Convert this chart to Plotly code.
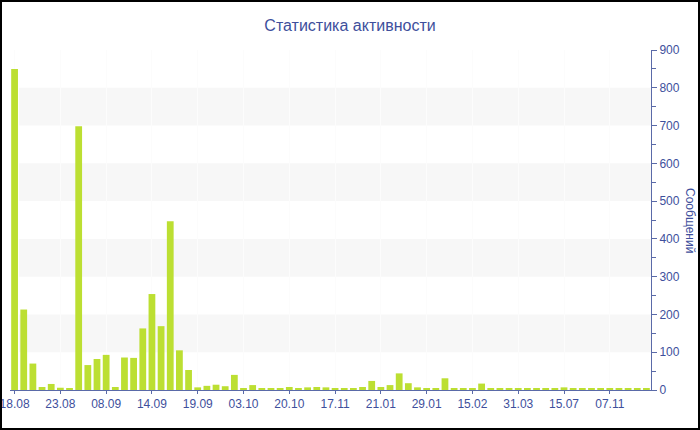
import plotly.graph_objects as go

# ---- data ----
messages = [850, 213, 70, 8, 16, 6, 5, 698, 66, 82,
            93, 8, 86, 85, 163, 254, 169, 447, 105, 53,
            7, 11, 14, 10, 40, 4, 13, 5, 3, 4,
            8, 3, 7, 8, 7, 4, 5, 5, 8, 24,
            8, 13, 44, 18, 7, 5, 5, 31, 4, 4,
            4, 17, 4, 4, 5, 5, 4, 4, 4, 4,
            7, 4, 4, 4, 4, 4, 4, 4, 4, 4]
positions = list(range(len(messages)))
tick_positions = [0, 5, 10, 15, 20, 25, 30, 35, 40, 45, 50, 55, 60, 65]
tick_labels = ["18.08", "23.08", "08.09", "14.09", "19.09", "03.10", "20.10",
               "17.11", "21.01", "29.01", "15.02", "31.03", "15.07", "07.11"]
bands = [(100, 200), (300, 400), (500, 600), (700, 800)]

TXT = "#3e4f9c"
AX = "#5a6aa8"
BAR = "#bcdf32"
FONT = "Liberation Sans"

W, H = 700, 430
ML, MR, MT, MB = 10, 49, 50, 40
PW, PH = W - ML - MR, H - MT - MB

fig = go.Figure()
fig.add_trace(go.Bar(x=positions, y=messages, marker=dict(color=BAR, line=dict(width=0)),
                     hoverinfo="y"))

shapes = []
for lo, hi in bands:
    shapes.append(dict(type="rect", xref="x", yref="y", x0=0.5, x1=positions[-1] + 0.5,
                       y0=lo, y1=hi, fillcolor="#f7f7f7", line=dict(width=0), layer="below"))
# outer frame
shapes.append(dict(type="rect", xref="paper", yref="paper",
                   x0=(1 - ML) / PW, x1=(W - 1 - ML) / PW,
                   y0=(H - MB - (H - 1)) / PH, y1=(H - MB - 1) / PH,
                   line=dict(color="black", width=2), fillcolor="rgba(0,0,0,0)", layer="above"))

fig.update_layout(
    width=W, height=H,
    margin=dict(l=ML, r=MR, t=MT, b=MB, autoexpand=False),
    paper_bgcolor="white", plot_bgcolor="white",
    font=dict(family=FONT, color=TXT, size=12),
    title=dict(text="Статистика активности", x=0.5, xanchor="center",
               y=1 - 25 / H, yanchor="middle", font=dict(size=16, color=TXT, family=FONT)),
    bargap=0.26,
    showlegend=False,
    shapes=shapes,
    xaxis=dict(range=[-0.5, positions[-1] + 0.5], tickvals=tick_positions, ticktext=tick_labels,
               ticks="outside", ticklen=3, tickcolor=AX, showline=True, linecolor=AX, linewidth=1,
               showgrid=True, gridcolor="#fcfcfc", gridwidth=1, zeroline=False,
               ticklabeloverflow="allow",
               tickfont=dict(size=12, color=TXT, family=FONT), fixedrange=True),
    yaxis=dict(side="right", range=[0, 900], dtick=100, ticks="outside", ticklen=5, tickcolor=AX,
               showline=True, linecolor=AX, linewidth=1, showgrid=False, zeroline=False,
               minor=dict(ticks="outside", ticklen=4, dtick=50, tickcolor=AX, showgrid=False),
               tickfont=dict(size=12, color=TXT, family=FONT), fixedrange=True),
    annotations=[dict(text="Сообщений", xref="paper", yref="paper",
                      x=(690 - ML) / PW, y=0.5, xanchor="center", yanchor="middle",
                      textangle=90, showarrow=False, font=dict(size=12, color=TXT, family=FONT))],
)

fig.write_html("out.html", config={"displayModeBar": False},
               post_script="document.body.style.margin='0';document.body.style.overflow='hidden';")
